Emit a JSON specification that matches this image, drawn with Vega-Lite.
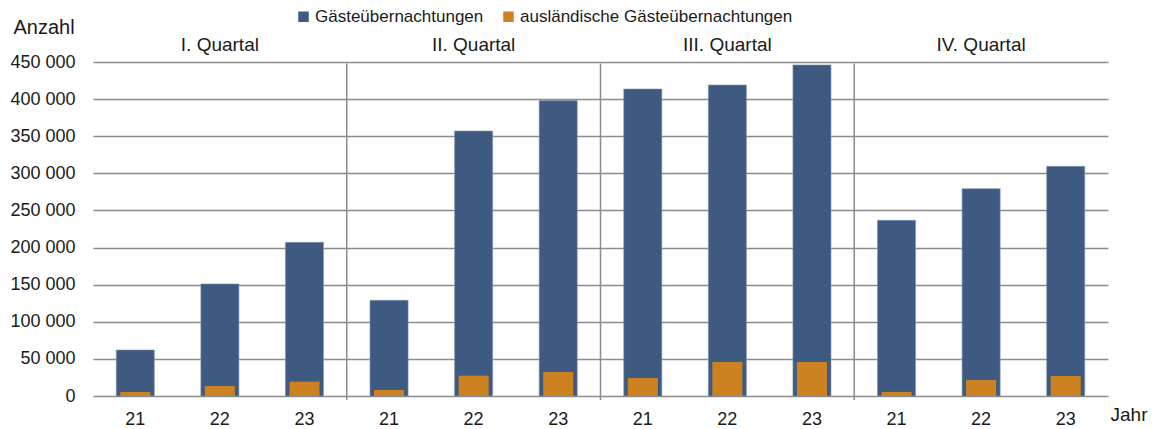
{
  "$schema": "https://vega.github.io/schema/vega-lite/v6.json",
  "autosize": {"type": "none"},
  "width": 1015,
  "height": 334,
  "padding": {"left": 93, "top": 62, "right": 50, "bottom": 33},
  "config": {
    "view": {"stroke": null},
    "font": "Liberation Sans",
    "locale": {"number": {"decimal": ",", "thousands": " ", "grouping": [3], "currency": ["", " €"]}},
    "axis": {"labelColor": "#1a1a1a", "titleColor": "#1a1a1a", "labelFont": "Liberation Sans", "titleFont": "Liberation Sans", "titleFontWeight": "normal"}
  },
  "datasets": {
    "bars": [
      {"id": "I-21", "quartal": "I. Quartal", "total": 62000, "foreign": 5400},
      {"id": "I-22", "quartal": "I. Quartal", "total": 151000, "foreign": 13500},
      {"id": "I-23", "quartal": "I. Quartal", "total": 207000, "foreign": 19300},
      {"id": "II-21", "quartal": "II. Quartal", "total": 129000, "foreign": 8100},
      {"id": "II-22", "quartal": "II. Quartal", "total": 357000, "foreign": 27400},
      {"id": "II-23", "quartal": "II. Quartal", "total": 398000, "foreign": 32300},
      {"id": "III-21", "quartal": "III. Quartal", "total": 413600, "foreign": 24200},
      {"id": "III-22", "quartal": "III. Quartal", "total": 419000, "foreign": 45800},
      {"id": "III-23", "quartal": "III. Quartal", "total": 446000, "foreign": 45800},
      {"id": "IV-21", "quartal": "IV. Quartal", "total": 236700, "foreign": 5500},
      {"id": "IV-22", "quartal": "IV. Quartal", "total": 279300, "foreign": 21500},
      {"id": "IV-23", "quartal": "IV. Quartal", "total": 309400, "foreign": 27000}
    ],
    "quarters": [
      {"id": "I-22", "label": "I. Quartal"},
      {"id": "II-22", "label": "II. Quartal"},
      {"id": "III-22", "label": "III. Quartal"},
      {"id": "IV-22", "label": "IV. Quartal"}
    ],
    "seps": [
      {"id": "II-21"},
      {"id": "III-21"},
      {"id": "IV-21"}
    ]
  },
  "layer": [
    {
      "data": {"name": "bars"},
      "mark": {"type": "bar", "width": {"band": 0.45}, "stroke": "#7f93b3", "strokeWidth": 0.6},
      "encoding": {
        "x": {
          "field": "id", "type": "nominal", "sort": null,
          "scale": {"paddingInner": 0, "paddingOuter": 0},
          "axis": {
            "labelExpr": "slice(datum.value, -2)", "labelAngle": 0, "labelFontSize": 18,
            "labelPadding": 14, "ticks": false, "domain": false,
            "title": "Jahr", "titleFontSize": 19, "titleAnchor": "start", "titleAlign": "left",
            "titleX": 1017, "titleY": 24, "titleBaseline": "alphabetic"
          }
        },
        "y": {
          "field": "total", "type": "quantitative",
          "scale": {"domain": [0, 450000], "nice": false},
          "axis": {
            "values": [0, 50000, 100000, 150000, 200000, 250000, 300000, 350000, 400000, 450000],
            "tickCount": 20,
            "format": ",d", "labelFontSize": 18, "labelPadding": 18, "labelOverlap": false, "ticks": false, "domain": false,
            "grid": true, "gridColor": "#8c8c8c", "gridWidth": 1.5,
            "title": "Anzahl", "titleFontSize": 20, "titleAngle": 0, "titleAnchor": "start", "titleAlign": "left",
            "titleX": -80, "titleY": -29, "titleBaseline": "alphabetic"
          }
        },
        "color": {
          "datum": "Gästeübernachtungen",
          "scale": {"domain": ["Gästeübernachtungen", "ausländische Gästeübernachtungen"], "range": ["#3f5a80", "#cd8221"]},
          "legend": {
            "title": null, "orient": "none", "direction": "horizontal",
            "legendX": 202, "legendY": -54, "symbolType": "square", "symbolSize": 110,
            "symbolStrokeWidth": 0, "labelFontSize": 17, "labelColor": "#1a1a1a", "labelOffset": 3, "columnPadding": 16,
            "labelFont": "Liberation Sans", "labelLimit": 500
          }
        }
      }
    },
    {
      "data": {"name": "bars"},
      "mark": {"type": "bar", "width": {"band": 0.355}},
      "encoding": {
        "x": {"field": "id", "type": "nominal", "sort": null},
        "y": {"field": "foreign", "type": "quantitative"},
        "color": {"datum": "ausländische Gästeübernachtungen"}
      }
    },
    {
      "data": {"name": "seps"},
      "mark": {"type": "rule", "color": "#8c8c8c", "strokeWidth": 1.5},
      "encoding": {
        "x": {"field": "id", "type": "nominal", "sort": null, "bandPosition": 0},
        "y": {"datum": 448000, "type": "quantitative"},
        "y2": {"datum": -5500}
      }
    },
    {
      "data": {"name": "quarters"},
      "mark": {"type": "text", "fontSize": 19, "baseline": "middle", "align": "center", "color": "#1a1a1a"},
      "encoding": {
        "x": {"field": "id", "type": "nominal", "sort": null},
        "y": {"datum": 473500, "type": "quantitative"},
        "text": {"field": "label"}
      }
    }
  ]
}
